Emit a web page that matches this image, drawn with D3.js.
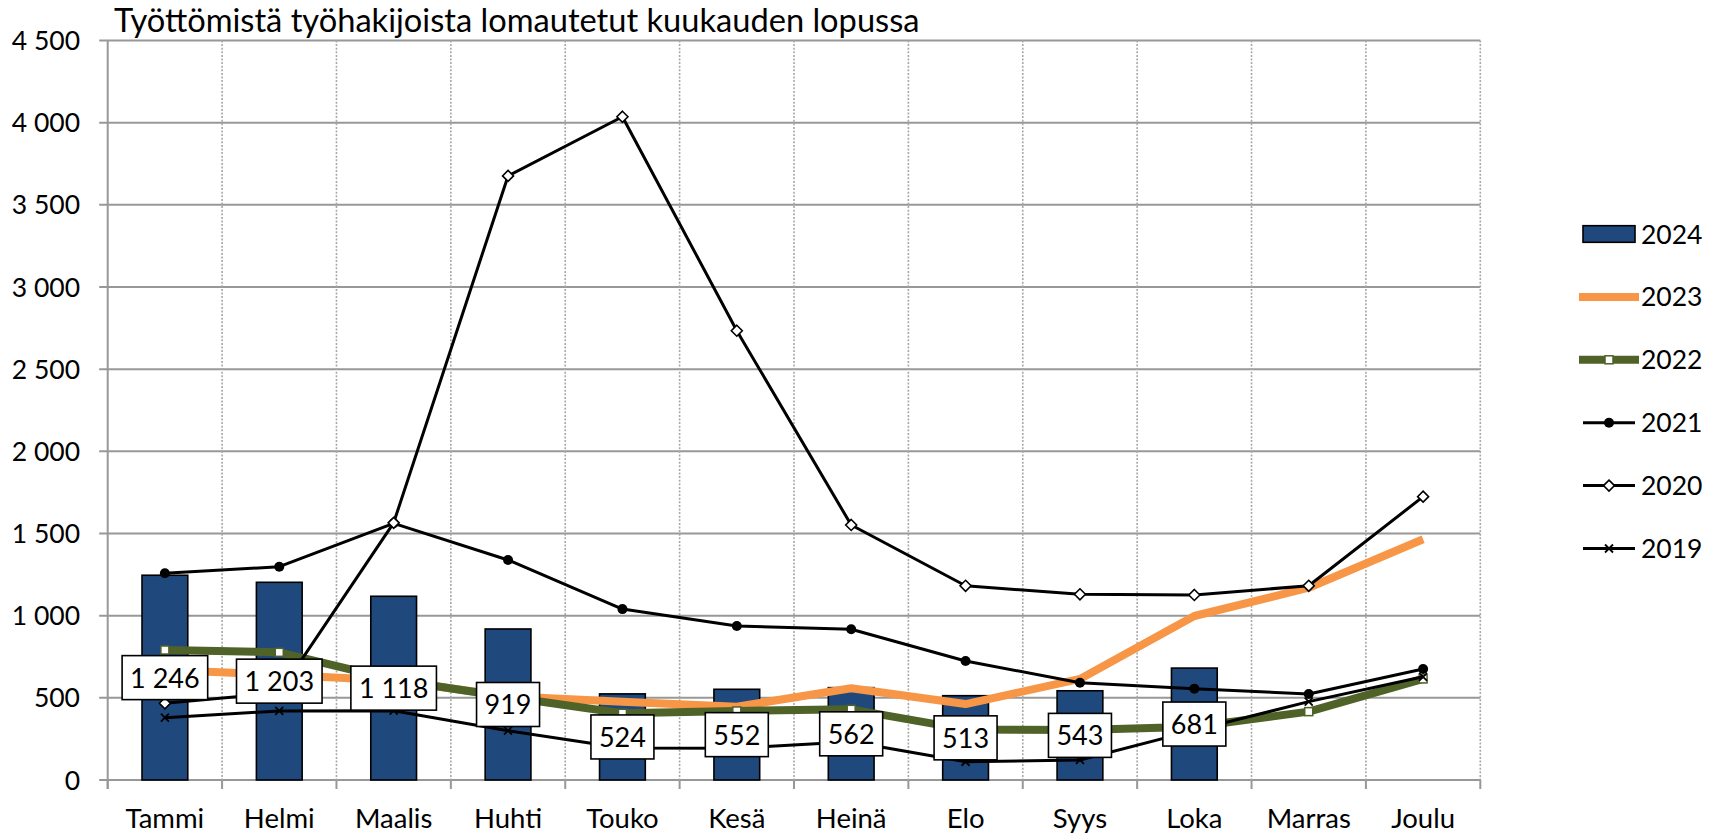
<!DOCTYPE html>
<html><head><meta charset="utf-8">
<script src="https://cdn.jsdelivr.net/npm/d3@7"></script>
<style>
html,body{margin:0;padding:0;background:#fff;}
svg{display:block;font-family:Lato,"Open Sans",sans-serif;}
</style></head>
<body><svg id="c" width="1711" height="835"></svg>
<script>
const title = "Työttömistä työhakijoista lomautetut kuukauden lopussa";
const months = ["Tammi","Helmi","Maalis","Huhti","Touko","Kesä","Heinä","Elo","Syys","Loka","Marras","Joulu"];
const yTicks = [0,500,1000,1500,2000,2500,3000,3500,4000,4500];
const v2024 = [1246,1203,1118,919,524,552,562,513,543,681,null,null];
const v2023 = [670,640,605,510,476,446,558,462,615,998,1170,1465];
const v2022 = [791,777,610,505,406,420,430,308,304,324,416,615];
const v2021 = [1258,1298,1562,1339,1040,937,917,724,592,556,523,675];
const v2020 = [467,530,1565,3676,4036,2734,1552,1182,1130,1126,1182,1724];
const v2019 = [379,420,422,300,195,193,233,111,122,302,477,628];

const svg = d3.select("#c");
const L = 107.7, R = 1480.3, T = 40.5, B = 780;
const x = d3.scaleBand().domain(months).range([L, R]).padding(0);
const y = d3.scaleLinear().domain([0, 4500]).range([B, T]);
const fi = d3.formatLocale({decimal:",", thousands:"\u00a0", grouping:[3], currency:["","€"]});
const fmt = fi.format(",d");
const grid = "#989898";

// title
const tt = svg.append("text").attr("x", 114).attr("y", 32).attr("font-size", 33)
  .attr("fill", "#000").text(title);
const tw = tt.node().getComputedTextLength();
if (tw > 0) tt.attr("font-size", 33 * 806 / tw);

// horizontal gridlines
svg.append("g").selectAll("line").data(yTicks).join("line")
  .attr("x1", L - 8.5).attr("x2", R).attr("y1", d => y(d)).attr("y2", d => y(d))
  .attr("stroke", grid).attr("stroke-width", 2);
// vertical dotted gridlines at category boundaries
const bounds = months.map(m => x(m)).concat([R]);
svg.append("g").selectAll("line").data(bounds.slice(1)).join("line")
  .attr("x1", d => d).attr("x2", d => d).attr("y1", T).attr("y2", B)
  .attr("stroke", "#a8a8a8").attr("stroke-width", 1.6).attr("stroke-dasharray", "2,1.6");
// x-axis ticks
svg.append("g").selectAll("line").data(bounds).join("line")
  .attr("x1", d => d).attr("x2", d => d).attr("y1", B).attr("y2", B + 9)
  .attr("stroke", grid).attr("stroke-width", 2);
// y-axis line
svg.append("line").attr("x1", L).attr("x2", L).attr("y1", T).attr("y2", B + 9)
  .attr("stroke", grid).attr("stroke-width", 2);
// y labels
svg.append("g").selectAll("text").data(yTicks).join("text")
  .attr("x", 80).attr("y", d => y(d) + 9.5).attr("text-anchor", "end")
  .attr("font-size", 26.5).text(d => fmt(d));
// x labels
svg.append("g").selectAll("text").data(months).join("text")
  .attr("x", d => x(d) + x.bandwidth()/2).attr("y", 828).attr("text-anchor", "middle")
  .attr("font-size", 27.5).text(d => d);

// bars
const bw = x.bandwidth() * 0.4;
const barData = months.map((m, i) => ({m, v: v2024[i]})).filter(d => d.v != null);
svg.append("g").selectAll("rect").data(barData).join("rect")
  .attr("x", d => x(d.m) + x.bandwidth()/2 - bw/2).attr("width", bw)
  .attr("y", d => y(d.v)).attr("height", d => y(0) - y(d.v))
  .attr("fill", "#1F497D").attr("stroke", "#000").attr("stroke-width", 1.6);

const cx = m => x(m) + x.bandwidth()/2;
const line = d3.line().x(d => cx(d.m)).y(d => y(d.v));
function series(vals) { return months.map((m, i) => ({m, v: vals[i]})); }

// 2023
svg.append("path").datum(series(v2023)).attr("d", line).attr("fill", "none")
  .attr("stroke", "#F79646").attr("stroke-width", 8).attr("stroke-linejoin", "round");
// 2022
svg.append("path").datum(series(v2022)).attr("d", line).attr("fill", "none")
  .attr("stroke", "#4F6228").attr("stroke-width", 8).attr("stroke-linejoin", "round");
svg.append("g").selectAll("rect").data(series(v2022)).join("rect")
  .attr("x", d => cx(d.m) - 4).attr("y", d => y(d.v) - 4).attr("width", 8).attr("height", 8)
  .attr("fill", "#fff").attr("stroke", "#4F6228").attr("stroke-width", 1.5);
// 2021
svg.append("path").datum(series(v2021)).attr("d", line).attr("fill", "none")
  .attr("stroke", "#000").attr("stroke-width", 3).attr("stroke-linejoin", "round");
svg.append("g").selectAll("circle").data(series(v2021)).join("circle")
  .attr("cx", d => cx(d.m)).attr("cy", d => y(d.v)).attr("r", 5).attr("fill", "#000");
// 2020
svg.append("path").datum(series(v2020)).attr("d", line).attr("fill", "none")
  .attr("stroke", "#000").attr("stroke-width", 3).attr("stroke-linejoin", "round");
const diamond = (px, py, s) => `M${px},${py - s}L${px + s},${py}L${px},${py + s}L${px - s},${py}Z`;
svg.append("g").selectAll("path").data(series(v2020)).join("path")
  .attr("d", d => diamond(cx(d.m), y(d.v), 5.5))
  .attr("fill", "#fff").attr("stroke", "#000").attr("stroke-width", 1.6);
// 2019
svg.append("path").datum(series(v2019)).attr("d", line).attr("fill", "none")
  .attr("stroke", "#000").attr("stroke-width", 3).attr("stroke-linejoin", "round");
const cross = (px, py, s) => `M${px - s},${py - s}L${px + s},${py + s}M${px - s},${py + s}L${px + s},${py - s}`;
svg.append("g").selectAll("path").data(series(v2019)).join("path")
  .attr("d", d => cross(cx(d.m), y(d.v), 4))
  .attr("fill", "none").attr("stroke", "#000").attr("stroke-width", 1.8);

// data labels for 2024
const lg = svg.append("g");
barData.forEach(d => {
  const g = lg.append("g");
  const px = cx(d.m), py = (y(d.v) + y(0)) / 2;
  const t = g.append("text").attr("x", px).attr("y", py + 10).attr("text-anchor", "middle")
    .attr("font-size", 27).text(fmt(d.v));
  const w = t.node().getComputedTextLength() + 16;
  g.insert("rect", "text").attr("x", px - w/2).attr("y", py - 22).attr("width", w).attr("height", 44)
    .attr("fill", "#fff").attr("stroke", "#000").attr("stroke-width", 1.6);
});

// legend
const legendItems = ["2024","2023","2022","2021","2020","2019"];
const lgd = svg.append("g");
const ly = i => 234 + i * 62.9;
legendItems.forEach((name, i) => {
  const yy = ly(i);
  const g = lgd.append("g");
  if (name === "2024") {
    g.append("rect").attr("x", 1583).attr("y", yy - 8.3).attr("width", 52).attr("height", 16.6)
      .attr("fill", "#1F497D").attr("stroke", "#000").attr("stroke-width", 1.6);
  } else if (name === "2023") {
    g.append("line").attr("x1", 1579).attr("x2", 1639).attr("y1", yy).attr("y2", yy)
      .attr("stroke", "#F79646").attr("stroke-width", 8);
  } else if (name === "2022") {
    g.append("line").attr("x1", 1579).attr("x2", 1639).attr("y1", yy).attr("y2", yy)
      .attr("stroke", "#4F6228").attr("stroke-width", 8);
    g.append("rect").attr("x", 1605).attr("y", yy - 4).attr("width", 8).attr("height", 8)
      .attr("fill", "#fff").attr("stroke", "#4F6228").attr("stroke-width", 1.5);
  } else {
    g.append("line").attr("x1", 1583).attr("x2", 1635).attr("y1", yy).attr("y2", yy)
      .attr("stroke", "#000").attr("stroke-width", 3);
    if (name === "2021") g.append("circle").attr("cx", 1609).attr("cy", yy).attr("r", 5).attr("fill", "#000");
    if (name === "2020") g.append("path").attr("d", diamond(1609, yy, 5.5)).attr("fill", "#fff").attr("stroke", "#000").attr("stroke-width", 1.6);
    if (name === "2019") g.append("path").attr("d", cross(1609, yy, 4)).attr("stroke", "#000").attr("stroke-width", 1.8);
  }
  g.append("text").attr("x", 1641).attr("y", yy + 9.5).attr("font-size", 26.5).text(name);
});
</script></body></html>
